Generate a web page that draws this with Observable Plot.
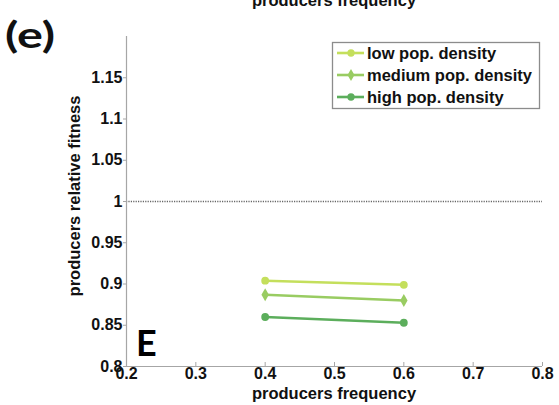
<!DOCTYPE html>
<html>
<head>
<meta charset="utf-8">
<script src="https://cdn.jsdelivr.net/npm/d3@7"></script>
<script src="https://cdn.jsdelivr.net/npm/@observablehq/plot@0.6"></script>
<style>
  html, body { margin: 0; padding: 0; background: #fff; }
  #chart { width: 559px; height: 405px; overflow: hidden; }
  svg { font-family: "Liberation Sans", Arial, sans-serif; }
</style>
</head>
<body>
<div id="chart"></div>
<script>
// ---- data ----
const producersFrequency = [0.4, 0.6];
const seriesNames = ["low pop. density", "medium pop. density", "high pop. density"];
const lowDensityFitness = [0.904, 0.899];
const mediumDensityFitness = [0.887, 0.880];
const highDensityFitness = [0.860, 0.853];
const seriesColors = ["#c4df5c", "#99cc62", "#5cae5c"];
const seriesSymbols = ["circle", "diamond", "circle"];
const xTicks = [0.2, 0.3, 0.4, 0.5, 0.6, 0.7, 0.8];
const yTicks = [0.8, 0.85, 0.9, 0.95, 1, 1.05, 1.1, 1.15];
const referenceFitness = [1];

const seriesValues = [lowDensityFitness, mediumDensityFitness, highDensityFitness];
const rows = [];
seriesNames.forEach((name, i) => {
  producersFrequency.forEach((f, j) => {
    rows.push({series: name, freq: f, fitness: seriesValues[i][j], symbol: seriesSymbols[i]});
  });
});

const axisGray = "#a6a6a6";
const W = 559, H = 405;
const mTop = 36, mBottom = 39, mLeft = 126, mRight = 17;

const chart = Plot.plot({
  width: W,
  height: H,
  marginTop: mTop,
  marginBottom: mBottom,
  marginLeft: mLeft,
  marginRight: mRight,
  style: {fontFamily: "Liberation Sans, Arial, sans-serif", background: "#fff"},
  x: {domain: [0.2, 0.8]},
  y: {domain: [0.8, 1.2]},
  color: {domain: seriesNames, range: seriesColors},
  symbol: {domain: ["circle", "diamond"], range: ["circle", "diamond"]},
  marks: [
    Plot.ruleY(referenceFitness, {stroke: "#666", strokeDasharray: "1.2,1.2", strokeWidth: 1.3}),
    Plot.ruleX([0.2], {stroke: axisGray, strokeWidth: 1.2}),
    Plot.ruleY([0.8], {stroke: axisGray, strokeWidth: 1.2}),
    Plot.tickX(xTicks.slice(1), {x: d => d, stroke: axisGray, insetTop: H - mTop - mBottom - 4}),
    Plot.axisX({
      ticks: xTicks, tickSize: 0, tickPadding: 1,
      tickFormat: d => String(+d.toFixed(2)),
      fontSize: 16, fontWeight: "bold", fill: "#111",
      label: null
    }),
    Plot.axisY({
      ticks: yTicks, tickSize: 3, tickPadding: 1, stroke: axisGray,
      tickFormat: d => String(+d.toFixed(2)),
      fontSize: 16, fontWeight: "bold", fill: "#111",
      label: null
    }),
    Plot.line(rows, {x: "freq", y: "fitness", z: "series", stroke: "series", strokeWidth: 2.6}),
    Plot.dot(rows, {x: "freq", y: "fitness", fill: "series", symbol: "symbol", r: 3.9, stroke: "none"})
  ]
});

document.getElementById("chart").appendChild(chart);

const svg = d3.select(chart);
const labelFont = "bold 16.5px 'Liberation Sans', Arial, sans-serif";

// axis labels
svg.append("text")
  .attr("x", (mLeft + W - mRight) / 2).attr("y", 399)
  .attr("text-anchor", "middle")
  .style("font", labelFont).attr("fill", "#111")
  .text("producers frequency");

svg.append("text")
  .attr("transform", `translate(80,${(mTop + H - mBottom) / 2 - 5}) rotate(-90)`)
  .attr("text-anchor", "middle")
  .style("font", labelFont).attr("fill", "#111")
  .text("producers relative fitness");

// clipped label from the panel above
svg.append("text")
  .attr("x", (mLeft + W - mRight) / 2).attr("y", 6)
  .attr("text-anchor", "middle")
  .style("font", labelFont).attr("fill", "#111")
  .text("producers frequency");

// panel label
svg.append("text")
  .attr("x", 5).attr("y", 48)
  .attr("text-anchor", "start")
  .attr("textLength", 50).attr("lengthAdjust", "spacingAndGlyphs")
  .style("font", "bold 37px Lato, 'Open Sans', sans-serif").attr("fill", "#111")
  .text("(e)");

svg.append("text")
  .attr("x", 136).attr("y", 356)
  .attr("text-anchor", "start")
  .style("font", "bold 36px Lato, 'Open Sans', sans-serif").attr("fill", "#000")
  .text("E");

// legend
const lg = svg.append("g").attr("text-anchor", "start");
lg.append("rect")
  .attr("x", 332.5).attr("y", 42.5).attr("width", 207).attr("height", 66)
  .attr("fill", "#fff").attr("stroke", "#8c8c8c").attr("stroke-width", 1.3);
seriesNames.forEach((name, i) => {
  const y = 53 + i * 22;
  lg.append("line").attr("x1", 337).attr("x2", 364).attr("y1", y).attr("y2", y)
    .attr("stroke", seriesColors[i]).attr("stroke-width", 2.6);
  const sym = seriesSymbols[i] === "diamond" ? d3.symbolDiamond : d3.symbolCircle;
  lg.append("path").attr("d", d3.symbol(sym, 42)())
    .attr("transform", `translate(351,${y})`).attr("fill", seriesColors[i]);
  lg.append("text").attr("x", 367).attr("y", y).attr("dy", "0.35em")
    .attr("text-anchor", "start")
    .style("font", labelFont).attr("fill", "#111")
    .text(name);
});
</script>
</body>
</html>
